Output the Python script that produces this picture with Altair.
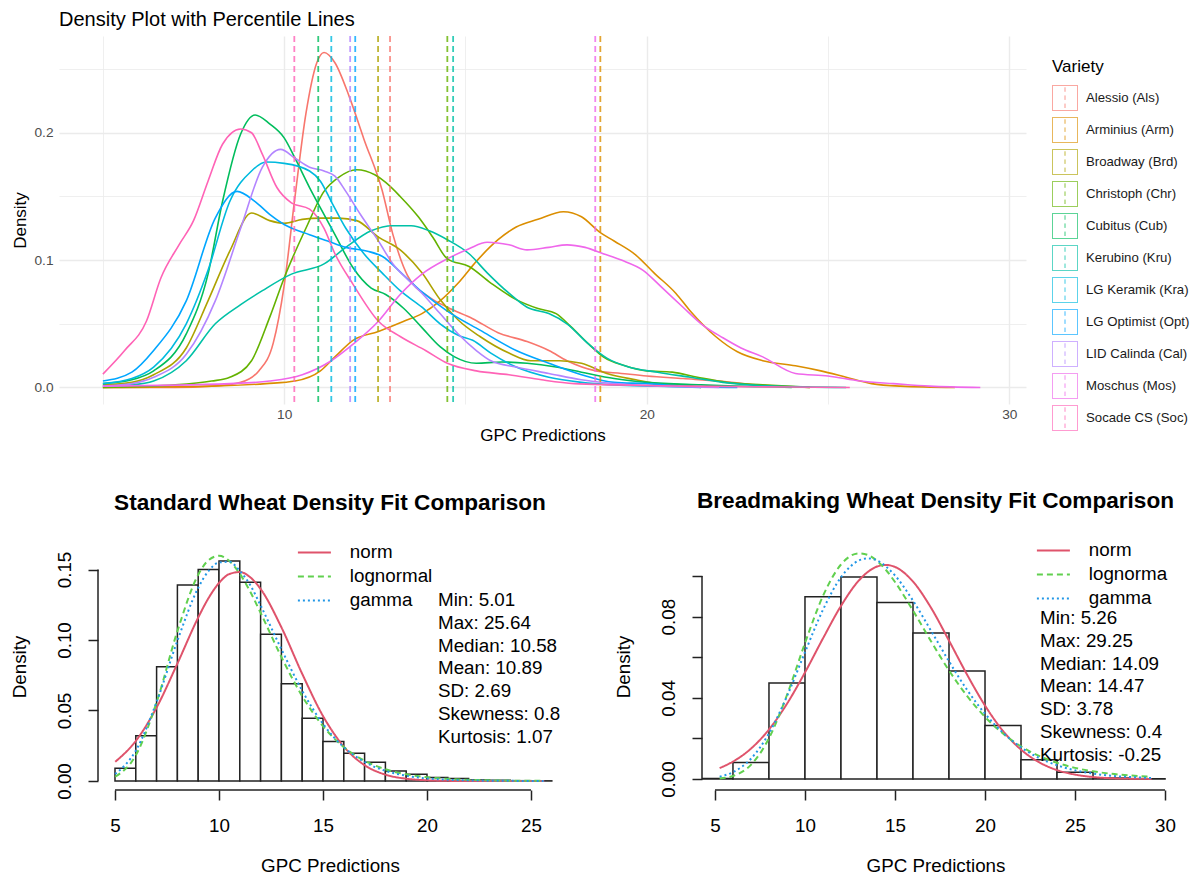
import altair as alt
import pandas as pd

FONT = "Liberation Sans"

# ---------------- top panel: density curves per variety ----------------
varieties = ["Alessio (Als)", "Arminius (Arm)", "Broadway (Brd)", "Christoph (Chr)",
             "Cubitus (Cub)", "Kerubino (Kru)", "LG Keramik (Kra)", "LG Optimist (Opt)",
             "LID Calinda (Cal)", "Moschus (Mos)", "Socade CS (Soc)"]
variety_colors = ["#F8766D", "#DB8E00", "#AEA200", "#64B200", "#00BD5C", "#00C1A7",
                  "#00BADE", "#00A6FF", "#B385FF", "#EF67EB", "#FF63B6"]
percentile_lines = [12.92, 18.72, 12.59, 14.50, 10.94, 14.66, 11.30, 11.96, 11.82, 18.58, 10.28]

als_x = [5.0, 7.0, 8.0, 8.8, 9.3, 9.7, 10.0, 10.3, 10.6, 10.9, 11.1, 11.4, 11.8, 12.2, 12.7, 13.0,
         13.4, 14.0, 14.5, 15.2, 15.9, 16.7, 17.3, 17.8, 18.6, 19.3, 20.0, 21.0, 22.0, 23.0, 24.5]
als_y = [0.000, 0.000, 0.001, 0.004, 0.013, 0.035, 0.080, 0.150, 0.215, 0.255, 0.263, 0.255, 0.228,
         0.195, 0.155, 0.120, 0.088, 0.071, 0.063, 0.054, 0.043, 0.036, 0.029, 0.021, 0.013, 0.011,
         0.009, 0.007, 0.005, 0.002, 0.000]
arm_x = [5.0, 8.0, 9.5, 10.3, 11.0, 11.4, 11.9, 12.6, 13.3, 13.8, 14.3, 14.8, 15.3, 15.9, 16.4, 17.0,
         17.7, 18.2, 18.7, 19.1, 19.7, 20.2, 20.8, 21.2, 21.9, 22.5, 23.2, 24.1, 24.8, 25.5, 26.2,
         27.0, 28.5]
arm_y = [0.000, 0.001, 0.003, 0.005, 0.013, 0.024, 0.037, 0.044, 0.052, 0.058, 0.068, 0.082, 0.099,
         0.116, 0.126, 0.132, 0.138, 0.134, 0.122, 0.115, 0.104, 0.090, 0.074, 0.060, 0.040, 0.028,
         0.021, 0.017, 0.013, 0.008, 0.003, 0.001, 0.000]
brd_x = [5.0, 5.8, 6.4, 7.3, 7.9, 8.5, 9.1, 9.6, 10.0, 10.5, 11.0, 11.5, 12.0, 12.6, 13.2, 13.8,
         14.3, 14.8, 15.4, 16.2, 16.8, 17.6, 18.2, 18.9, 19.7, 20.3, 21.0, 21.5]
brd_y = [0.002, 0.004, 0.010, 0.031, 0.068, 0.107, 0.137, 0.131, 0.129, 0.132, 0.133, 0.133, 0.131,
         0.118, 0.108, 0.090, 0.069, 0.053, 0.040, 0.027, 0.021, 0.021, 0.019, 0.011, 0.006, 0.003,
         0.002, 0.000]
chr_x = [5.0, 7.0, 8.0, 8.5, 9.1, 9.6, 10.0, 10.6, 11.1, 11.5, 12.0, 12.5, 12.8, 13.2, 13.7, 14.1,
         14.5, 15.1, 15.7, 16.4, 17.0, 17.5, 17.9, 18.4, 18.8, 19.4, 20.0, 20.7, 21.4, 22.2, 23.2, 24.5]
chr_y = [0.000, 0.002, 0.005, 0.008, 0.021, 0.055, 0.086, 0.125, 0.154, 0.165, 0.171, 0.167, 0.161,
         0.150, 0.134, 0.118, 0.101, 0.095, 0.082, 0.069, 0.062, 0.058, 0.048, 0.034, 0.024, 0.017,
         0.013, 0.012, 0.008, 0.004, 0.002, 0.000]
cub_x = [5.0, 5.8, 6.4, 7.3, 7.9, 8.3, 8.8, 9.2, 9.6, 10.0, 10.3, 10.7, 11.0, 11.4, 11.9, 12.4,
         12.8, 13.3, 13.8, 14.3, 14.7, 15.3, 16.0, 16.7, 17.5, 18.2, 19.1, 20.0, 21.5, 24.0]
cub_y = [0.003, 0.006, 0.013, 0.042, 0.089, 0.146, 0.199, 0.214, 0.207, 0.196, 0.180, 0.157, 0.141,
         0.120, 0.094, 0.078, 0.073, 0.062, 0.047, 0.032, 0.024, 0.019, 0.020, 0.019, 0.016, 0.012,
         0.007, 0.004, 0.002, 0.000]
kru_x = [5.0, 5.8, 6.4, 7.3, 8.1, 8.8, 9.4, 10.2, 11.1, 11.7, 12.4, 13.0, 13.5, 14.0, 14.5, 15.1,
         15.6, 16.2, 16.7, 17.3, 17.8, 18.4, 18.9, 19.5, 20.3, 21.2, 22.1, 23.5, 25.5]
kru_y = [0.001, 0.002, 0.005, 0.021, 0.050, 0.065, 0.076, 0.089, 0.097, 0.110, 0.123, 0.127, 0.127,
         0.123, 0.116, 0.105, 0.090, 0.074, 0.063, 0.058, 0.050, 0.034, 0.023, 0.016, 0.012, 0.008,
         0.004, 0.001, 0.000]
kra_x = [5.0, 5.8, 6.4, 7.3, 7.9, 8.5, 9.1, 9.5, 10.0, 10.7, 11.0, 11.3, 11.7, 12.2, 12.7, 13.2,
         13.8, 14.3, 14.8, 15.2, 15.7, 16.4, 17.3, 18.2, 19.1, 20.3, 21.5]
kra_y = [0.003, 0.007, 0.016, 0.050, 0.092, 0.146, 0.170, 0.177, 0.176, 0.170, 0.162, 0.146, 0.125,
         0.105, 0.090, 0.076, 0.063, 0.050, 0.041, 0.037, 0.027, 0.016, 0.008, 0.004, 0.002, 0.001,
         0.000]
opt_x = [5.0, 5.8, 6.4, 7.3, 8.1, 8.7, 9.2, 9.6, 10.0, 10.7, 11.2, 11.7, 12.3, 12.7, 13.3, 13.8,
         14.5, 15.4, 16.4, 17.3, 18.2, 19.1, 20.0, 21.0, 22.5]
opt_y = [0.005, 0.012, 0.029, 0.068, 0.133, 0.154, 0.146, 0.136, 0.128, 0.120, 0.115, 0.110, 0.107,
         0.103, 0.088, 0.075, 0.060, 0.045, 0.029, 0.019, 0.010, 0.004, 0.003, 0.001, 0.000]
cal_x = [5.0, 5.8, 6.4, 7.3, 8.1, 8.8, 9.4, 9.9, 10.3, 10.7, 11.1, 11.4, 11.7, 12.1, 12.6, 13.0,
         13.4, 13.8, 14.3, 14.8, 15.3, 15.7, 16.4, 17.3, 18.2, 19.1, 20.5, 22.0]
cal_y = [0.001, 0.003, 0.008, 0.026, 0.068, 0.125, 0.173, 0.187, 0.180, 0.173, 0.170, 0.166, 0.154,
         0.136, 0.115, 0.097, 0.085, 0.074, 0.058, 0.042, 0.029, 0.021, 0.016, 0.011, 0.006, 0.003,
         0.001, 0.000]
mos_x = [5.0, 8.5, 9.6, 10.5, 11.3, 11.9, 12.6, 13.2, 13.8, 14.5, 15.1, 15.6, 16.2, 16.7, 17.3, 17.8,
         18.3, 18.8, 19.3, 19.9, 20.4, 21.0, 21.5, 22.1, 22.6, 23.2, 24.1, 25.0, 25.9, 26.8, 27.8, 29.2]
mos_y = [0.001, 0.003, 0.005, 0.010, 0.021, 0.034, 0.052, 0.073, 0.089, 0.101, 0.109, 0.114, 0.112,
         0.108, 0.110, 0.112, 0.110, 0.105, 0.100, 0.092, 0.079, 0.063, 0.050, 0.039, 0.031, 0.024,
         0.011, 0.009, 0.005, 0.003, 0.001, 0.000]
soc_x = [5.0, 5.6, 6.2, 6.6, 7.1, 7.5, 7.9, 8.3, 8.8, 9.1, 9.4, 9.8, 10.2, 10.7, 11.1, 11.4, 11.9,
         12.6, 13.2, 13.9, 14.5, 15.3, 16.2, 17.1, 18.0, 19.1, 21.0, 23.0, 25.6]
soc_y = [0.0105, 0.029, 0.052, 0.086, 0.112, 0.131, 0.162, 0.191, 0.203, 0.200, 0.183, 0.157, 0.145,
         0.140, 0.125, 0.105, 0.081, 0.052, 0.040, 0.029, 0.019, 0.013, 0.010, 0.006, 0.003, 0.002,
         0.001, 0.0005, 0.000]

variety_curves = [(als_x, als_y), (arm_x, arm_y), (brd_x, brd_y), (chr_x, chr_y), (cub_x, cub_y),
                  (kru_x, kru_y), (kra_x, kra_y), (opt_x, opt_y), (cal_x, cal_y), (mos_x, mos_y),
                  (soc_x, soc_y)]

top_x_ticks = [5, 10, 15, 20, 25, 30]
top_y_ticks = [0.0, 0.05, 0.10, 0.15, 0.20, 0.25]

# ---------------- bottom panels: histograms and fitted curves ----------------
fit_names_std = ["norm", "lognormal", "gamma"]
fit_names_brd = ["norm", "lognorma", "gamma"]
fit_colors = ["#DF536B", "#61D04F", "#2297E6"]
fit_dashes = [[1, 0], [6, 4], [2, 3]]

std_bin_lo = [5, 6, 7, 8, 9, 10, 11, 12, 13, 14, 15, 16, 17, 18, 19, 20, 21, 22, 23, 24, 25]
std_hist = [0.009, 0.032, 0.081, 0.139, 0.150, 0.156, 0.141, 0.104, 0.069, 0.0445, 0.028, 0.0197,
            0.0133, 0.0071, 0.0047, 0.0024, 0.0017, 0.0007, 0.0005, 0.0002, 0.0001]
std_cx = [5.01, 6, 7, 8, 9, 9.5, 10, 10.5, 11, 11.5, 12, 13, 14, 15, 16, 17, 18, 19, 20, 21, 22, 23,
          24, 25, 25.64]
std_norm = [0.0136, 0.0284, 0.0521, 0.0833, 0.1159, 0.1298, 0.1404, 0.1468, 0.1482, 0.1445, 0.1362,
            0.1090, 0.0760, 0.0461, 0.0244, 0.0112, 0.0045, 0.0016, 0.0005, 0.0001, 0.0, 0.0, 0.0,
            0.0, 0.0]
std_lnorm = [0.0030, 0.0182, 0.0558, 0.1063, 0.1463, 0.1567, 0.1597, 0.1560, 0.1470, 0.1343, 0.1193,
             0.0879, 0.0602, 0.0389, 0.0240, 0.0144, 0.0083, 0.0047, 0.0027, 0.0015, 0.0008, 0.0005,
             0.0002, 0.0001, 0.0001]
std_gamma = [0.0050, 0.0215, 0.0560, 0.0995, 0.1370, 0.1490, 0.1550, 0.1555, 0.1490, 0.1390, 0.1245,
             0.0935, 0.0640, 0.0405, 0.0240, 0.0135, 0.0072, 0.0037, 0.0018, 0.0009, 0.0004, 0.0002,
             0.0001, 0.0, 0.0]
std_stats = ["Min: 5.01", "Max: 25.64", "Median: 10.58", "Mean: 10.89", "SD: 2.69",
             "Skewness: 0.8", "Kurtosis: 1.07"]
std_x_ticks = [5, 10, 15, 20, 25]
std_y_ticks = [0.0, 0.05, 0.10, 0.15]
std_usr_x = [4.183, 26.49]       # plotting region of the R histogram
std_usr_y = [-0.0064, 0.1688]

brd_bin_lo = [4, 6, 8, 10, 12, 14, 16, 18, 20, 22, 24, 26, 28]
brd_hist = [0.0003, 0.0082, 0.0473, 0.0898, 0.0996, 0.0870, 0.0720, 0.0532, 0.0264, 0.0095, 0.0034,
            0.0005, 0.0001]
brd_cx = [5.26, 6, 7, 8, 9, 10, 11, 12, 13, 13.5, 14, 14.5, 15, 16, 17, 18, 19, 20, 21, 22, 23, 24,
          25, 26, 27, 28, 29, 29.25]
brd_norm = [0.0054, 0.0086, 0.0150, 0.0244, 0.0371, 0.0525, 0.0693, 0.0853, 0.0979, 0.1021, 0.1047,
            0.1055, 0.1045, 0.0973, 0.0844, 0.0682, 0.0515, 0.0362, 0.0237, 0.0145, 0.0083, 0.0044,
            0.0022, 0.0010, 0.0004, 0.0002, 0.0001, 0.0000]
brd_lnorm = [0.0003, 0.0015, 0.0070, 0.0201, 0.0414, 0.0670, 0.0902, 0.1057, 0.1112, 0.1104, 0.1075,
             0.1030, 0.0971, 0.0830, 0.0679, 0.0535, 0.0410, 0.0306, 0.0224, 0.0161, 0.0114, 0.0080,
             0.0055, 0.0038, 0.0026, 0.0018, 0.0012, 0.0011]
brd_gamma = [0.0012, 0.0034, 0.0100, 0.0225, 0.0408, 0.0625, 0.0834, 0.0994, 0.1077, 0.1087, 0.1077,
             0.1047, 0.1003, 0.0879, 0.0731, 0.0580, 0.0440, 0.0322, 0.0228, 0.0156, 0.0104, 0.0068,
             0.0043, 0.0027, 0.0016, 0.0010, 0.0006, 0.0005]
brd_stats = ["Min: 5.26", "Max: 29.25", "Median: 14.09", "Mean: 14.47", "SD: 3.78",
             "Skewness: 0.4", "Kurtosis: -0.25"]
brd_x_ticks = [5, 10, 15, 20, 25, 30]
brd_y_ticks = [0.0, 0.02, 0.04, 0.06, 0.08, 0.10]
brd_usr_x = [4.28, 30.22]
brd_usr_y = [-0.0054, 0.1163]

# ---------------- top chart ----------------
dens_rows = []
for name, (cx, cy) in zip(varieties, variety_curves):
    for a, b in zip(cx, cy):
        dens_rows.append({"variety": name, "gpc": a, "density": b})
dens_df = pd.DataFrame(dens_rows)
pct_df = pd.DataFrame({"variety": varieties, "gpc": percentile_lines})

is_major_x = "datum.value % 10 == 0"
is_major_y = "abs(datum.value * 10 - round(datum.value * 10)) < 0.001"

top_xscale = alt.Scale(domain=[3.79, 30.46], nice=False, zero=False)
top_yscale = alt.Scale(domain=[-0.013, 0.276], nice=False, zero=False)
top_xaxis = alt.Axis(values=top_x_ticks, labelExpr=is_major_x + " ? datum.label : ''",
                     grid=True, gridColor="#EBEBEB",
                     gridWidth={"condition": {"test": is_major_x, "value": 1.4}, "value": 0.8},
                     ticks=False, domain=False, labelFontSize=13.7, labelColor="#4D4D4D",
                     labelPadding=3, labelFlush=False, labelOverlap=False,
                     titleFontSize=17, titleFontWeight="normal", titleColor="black", titlePadding=7)
top_yaxis = alt.Axis(values=top_y_ticks,
                     labelExpr=is_major_y + " ? format(datum.value, '.1f') : ''",
                     grid=True, gridColor="#EBEBEB",
                     gridWidth={"condition": {"test": is_major_y, "value": 1.4}, "value": 0.8},
                     ticks=False, domain=False, labelFontSize=13.7, labelColor="#4D4D4D",
                     labelPadding=6, labelFlush=False, labelOverlap=False,
                     titleFontSize=17, titleFontWeight="normal", titleColor="black", titlePadding=4)
top_legend = alt.Legend(
    title="Variety", orient="none", legendX=993, legendY=23,
    titleFontSize=17, titleFontWeight="normal", titleColor="black", titleFont=FONT, titlePadding=9,
    labelFontSize=13.2, labelColor="#1A1A1A", labelFont=FONT, labelOffset=8,
    symbolType="M-1,-1H1V1H-1Z M0,-0.85V-0.5 M0,-0.2V0.15 M0,0.45V0.8",
    symbolSize=625, symbolStrokeWidth=1, symbolOpacity=0.85, symbolFillColor="transparent",
    symbolDash=[1, 0], rowPadding=2, symbolLimit=20)
var_color = alt.Color("variety:N", scale=alt.Scale(domain=varieties, range=variety_colors),
                      legend=top_legend, title="Variety")

density_lines = alt.Chart(dens_df).mark_line(strokeWidth=1.6, interpolate="monotone").encode(
    x=alt.X("gpc:Q", scale=top_xscale, axis=top_xaxis, title="GPC Predictions"),
    y=alt.Y("density:Q", scale=top_yscale, axis=top_yaxis, title="Density"),
    color=var_color,
)
pct_rules = alt.Chart(pct_df).mark_rule(strokeDash=[6, 4], strokeWidth=1.8, opacity=0.8).encode(
    x=alt.X("gpc:Q", scale=top_xscale, axis=top_xaxis, title="GPC Predictions"),
    color=var_color,
)
top = alt.layer(density_lines, pct_rules).properties(
    width=967, height=368,
    title=alt.Title("Density Plot with Percentile Lines", anchor="start", frame="group",
                    fontSize=20, fontWeight="normal", font=FONT, color="black", offset=5),
)


# ---------------- bottom charts ----------------
def fit_panel(title, bin_lo, bin_w, hist, cx, cnorm, clog, cgam, names, usr_x, usr_y,
              x_ticks, y_ticks, label_expr, stats, w, h, ext_left, leg_x, leg_y, st_x, st_y):
    # plot area is widened by ext_left px on the left (empty), axis drawn at the R region edge
    px_per_unit = w / (usr_x[1] - usr_x[0])
    x_dom = [usr_x[0] - ext_left / px_per_unit, usr_x[1]]
    hist_df = pd.DataFrame({"lo": bin_lo, "hi": [b + bin_w for b in bin_lo], "dens": hist,
                            "zero": [0.0] * len(bin_lo)})
    rows = []
    for nm, vals in zip(names, [cnorm, clog, cgam]):
        for a, b in zip(cx, vals):
            rows.append({"dist": nm, "gpc": a, "density": b})
    curve_df = pd.DataFrame(rows)
    xsc = alt.Scale(domain=x_dom, nice=False, zero=False)
    ysc = alt.Scale(domain=usr_y, nice=False, zero=False)
    xax = alt.Axis(values=x_ticks, grid=False, domain=False, ticks=True, tickSize=10,
                   tickWidth=1.5, tickColor="#222222", labelFontSize=18.8, labelColor="black",
                   labelPadding=16, labelFlush=False, labelOverlap=False, format="d",
                   titleFontSize=18.8, titleFontWeight="normal", titleColor="black",
                   titlePadding=22, titleX=ext_left + w / 2)
    yax = alt.Axis(values=y_ticks, grid=False, domain=False, ticks=True, tickSize=10,
                   tickWidth=1.5, tickColor="#222222", labelFontSize=18.8, labelColor="black",
                   labelAngle=270, labelAlign="center", labelBaseline="bottom",
                   labelPadding=14, labelFlush=False, labelOverlap=False, labelExpr=label_expr,
                   titleFontSize=18.8, titleFontWeight="normal", titleColor="black",
                   titlePadding=26, offset=-ext_left)
    X = alt.X("lo:Q", scale=xsc, axis=xax, title="GPC Predictions")
    Y = alt.Y("dens:Q", scale=ysc, axis=yax, title="Density")
    bars = alt.Chart(hist_df).mark_rect(fill="white", stroke="#222222", strokeWidth=1.5,
                                        clip=True).encode(x=X, x2="hi:Q", y=Y, y2="zero:Q")
    leg = alt.Legend(orient="none", legendX=leg_x, legendY=leg_y, title=None,
                     symbolType="M-3,0H3", symbolSize=121, symbolStrokeWidth=2,
                     labelFontSize=18.8, labelFont=FONT, labelColor="black", labelOffset=26,
                     rowPadding=4)
    curves = alt.Chart(curve_df).mark_line(strokeWidth=2, interpolate="monotone",
                                           clip=True).encode(
        x=alt.X("gpc:Q", scale=xsc, axis=xax, title="GPC Predictions"),
        y=alt.Y("density:Q", scale=ysc, axis=yax, title="Density"),
        color=alt.Color("dist:N", scale=alt.Scale(domain=names, range=fit_colors), legend=leg),
        strokeDash=alt.StrokeDash("dist:N", scale=alt.Scale(domain=names, range=fit_dashes),
                                  legend=leg),
    )
    xline = alt.Chart(pd.DataFrame({"a": [x_ticks[0]], "b": [x_ticks[-1]]})).mark_rule(
        color="#222222", strokeWidth=1.5).encode(
        x=alt.X("a:Q", scale=xsc, axis=xax, title="GPC Predictions"), x2="b:Q",
        y=alt.value(h))
    yline = alt.Chart(pd.DataFrame({"a": [y_ticks[0]], "b": [y_ticks[-1]],
                                    "edge": [usr_x[0]]})).mark_rule(
        color="#222222", strokeWidth=1.5).encode(
        y=alt.Y("a:Q", scale=ysc, axis=yax, title="Density"), y2="b:Q",
        x=alt.X("edge:Q", scale=xsc, axis=xax, title="GPC Predictions"))
    stats_txt = alt.Chart(pd.DataFrame({"t": ["\n".join(stats)]})).mark_text(
        align="left", baseline="top", lineBreak="\n", fontSize=18.8, lineHeight=22.8,
        font=FONT, color="black").encode(x=alt.value(st_x + ext_left), y=alt.value(st_y),
                                         text="t:N")
    return alt.layer(bars, curves, xline, yline, stats_txt).properties(
        width=w + ext_left, height=h,
        title=alt.Title(title, fontSize=22.6, fontWeight="bold", font=FONT, color="black",
                        anchor="middle", frame="group", offset=28, dx=ext_left / 2),
    )


std_panel = fit_panel("Standard Wheat Density Fit Comparison", std_bin_lo, 1, std_hist,
                      std_cx, std_norm, std_lnorm, std_gamma, fit_names_std,
                      std_usr_x, std_usr_y, std_x_ticks, std_y_ticks,
                      "format(datum.value, '.2f')", std_stats, 464, 247, 39,
                      246, 0, 340, 48)
brd_panel = fit_panel("Breadmaking Wheat Density Fit Comparison", brd_bin_lo, 2, brd_hist,
                      brd_cx, brd_norm, brd_lnorm, brd_gamma, fit_names_brd,
                      brd_usr_x, brd_usr_y, brd_x_ticks, brd_y_ticks,
                      "round(datum.value * 100) % 4 == 0 ? format(datum.value, '.2f') : ''",
                      brd_stats, 467, 247, 0, 342, -2, 338, 66)

bottom = alt.hconcat(std_panel, brd_panel, spacing=51).resolve_scale(
    color="independent", strokeDash="independent")

chart = alt.vconcat(top, bottom, spacing=46).resolve_scale(
    color="independent", strokeDash="independent"
).properties(
    padding={"left": 2, "top": 2, "right": 0, "bottom": 0}
).configure(font=FONT).configure_view(stroke=None)

chart.save("out.html", embed_options={"renderer": "svg", "actions": False})
